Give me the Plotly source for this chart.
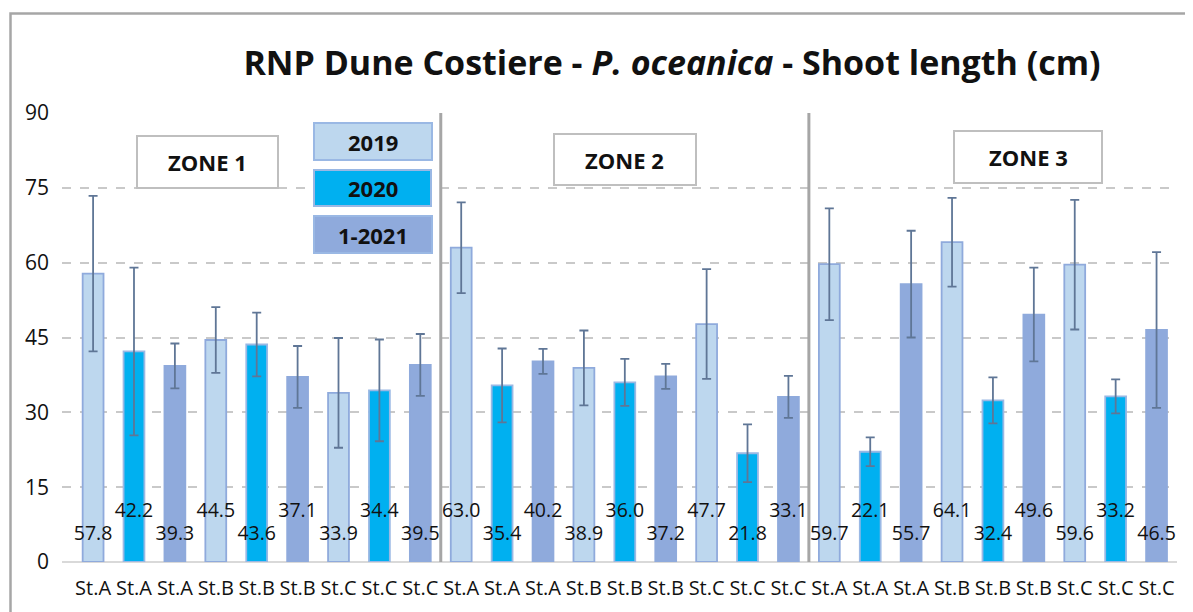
import plotly.graph_objects as go

# ---------------- data ----------------
stations = ["St.A", "St.A", "St.A", "St.B", "St.B", "St.B", "St.C", "St.C", "St.C",
            "St.A", "St.A", "St.A", "St.B", "St.B", "St.B", "St.C", "St.C", "St.C",
            "St.A", "St.A", "St.A", "St.B", "St.B", "St.B", "St.C", "St.C", "St.C"]
years = ["2019", "2020", "1-2021"] * 9
shoot_length = [57.8, 42.2, 39.3, 44.5, 43.6, 37.1, 33.9, 34.4, 39.5,
                63.0, 35.4, 40.2, 38.9, 36.0, 37.2, 47.7, 21.8, 33.1,
                59.7, 22.1, 55.7, 64.1, 32.4, 49.6, 59.6, 33.2, 46.5]
std_dev = [15.6, 16.8, 4.5, 6.6, 6.4, 6.2, 11.0, 10.2, 6.2,
           9.1, 7.4, 2.5, 7.5, 4.7, 2.5, 11.0, 5.8, 4.2,
           11.2, 2.9, 10.7, 8.9, 4.6, 9.4, 13.0, 3.4, 15.6]
zones = ["ZONE 1", "ZONE 2", "ZONE 3"]
legend_years = ["2019", "2020", "1-2021"]
y_ticks = [0, 15, 30, 45, 60, 75, 90]

# ---------------- styling ----------------
year_fill = {"2019": "#bdd7ee", "2020": "#00b0f0", "1-2021": "#8faadc"}
year_line = {"2019": "#8faadc", "2020": "#9ab8e4", "1-2021": "#8faadc"}
FONT = "Open Sans"

OFF = 8  # page body margin in the browser
W, H = 1193, 612
# target screen pixels for the plot area
PL, PR, PT, PB = 62, 1177, 113, 562
ML = PL - OFF
MT = PT - OFF
MR = (W + OFF) - PR
MB = (H + OFF) - PB
PW, PH = PR - PL, PB - PT


def px(x):
    return (x - PL) / PW


def py(y):
    return (PB - y) / PH


xs = list(range(len(shoot_length)))

fig = go.Figure()

fig.add_trace(go.Bar(
    x=xs, y=shoot_length, width=0.51,
    marker=dict(color=[year_fill[y] for y in years],
                line=dict(color=[year_line[y] for y in years], width=1.8)),
    error_y=dict(type="data", array=std_dev, visible=True,
                 color="#5f7696", thickness=1.8, width=4.5),
    showlegend=False, hoverinfo="skip",
))

# data labels, staggered low / high at the base of the bars
label_y = [5.4 if i % 2 == 0 else 10.0 for i in xs]
fig.add_trace(go.Scatter(
    x=xs, y=label_y, mode="text",
    text=[f"{v:.1f}" for v in shoot_length],
    textfont=dict(family=FONT, size=19.5, color="#111111"),
    textposition="middle center", cliponaxis=False,
    showlegend=False, hoverinfo="skip",
))

shapes = []
# outer chart border
shapes.append(dict(type="rect", xref="paper", yref="paper",
                   x0=px(10.5), x1=px(1215), y0=py(13.5), y1=py(640),
                   line=dict(color="#a6a6a6", width=2.5), fillcolor="rgba(0,0,0,0)",
                   layer="below"))
# zone separators
for sep in (8.5, 17.5):
    shapes.append(dict(type="line", xref="x", yref="y", x0=sep, x1=sep, y0=0, y1=90,
                       line=dict(color="#a6a6a6", width=3)))

annotations = []
# zone boxes
zone_boxes = [(137, 278, 136, 188), (554, 696, 134, 185), (954, 1102, 131, 183)]
for name, (x0, x1, y0, y1) in zip(zones, zone_boxes):
    shapes.append(dict(type="rect", xref="paper", yref="paper",
                       x0=px(x0), x1=px(x1), y0=py(y1), y1=py(y0),
                       line=dict(color="#bfbfbf", width=2), fillcolor="white"))
    annotations.append(dict(xref="paper", yref="paper", x=px((x0 + x1) / 2),
                            y=py((y0 + y1) / 2), text=f"<b>{name}</b>", showarrow=False,
                            font=dict(family=FONT, size=22, color="#111111"),
                            xanchor="center", yanchor="middle"))

# legend boxes
leg_boxes = [(314, 432, 123, 160), (314, 431, 170, 206), (314, 432, 216, 253)]
for yr, (x0, x1, y0, y1) in zip(legend_years, leg_boxes):
    shapes.append(dict(type="rect", xref="paper", yref="paper",
                       x0=px(x0), x1=px(x1), y0=py(y1), y1=py(y0),
                       line=dict(color="#9ab8e4", width=2), fillcolor=year_fill[yr]))
    annotations.append(dict(xref="paper", yref="paper", x=px((x0 + x1) / 2),
                            y=py((y0 + y1) / 2), text=f"<b>{yr}</b>", showarrow=False,
                            font=dict(family=FONT, size=22, color="#111111"),
                            xanchor="center", yanchor="middle"))

fig.update_layout(
    width=W, height=H,
    margin=dict(l=ML, r=MR, t=MT, b=MB, autoexpand=False),
    paper_bgcolor="white", plot_bgcolor="white",
    font=dict(family=FONT, color="#111111"),
    title=dict(text="<b>RNP Dune Costiere - <i>P. oceanica</i> - Shoot length (cm)</b>",
               xref="paper", x=px(672), xanchor="center",
               yref="container", y=1 - (63 - OFF) / H, yanchor="middle",
               font=dict(family=FONT, size=34, color="#111111")),
    xaxis=dict(range=[-0.76, 26.5], tickmode="array", tickvals=xs, ticktext=stations,
               tickfont=dict(family=FONT, size=20, color="#111111"),
               showgrid=False, zeroline=False, showline=False, ticks="",
               ticklabelstandoff=12),
    yaxis=dict(range=[0, 90], tickmode="array", tickvals=y_ticks,
               tickfont=dict(family=FONT, size=21, color="#111111"),
               showgrid=True, gridcolor="#c9c9c9", griddash="dash", gridwidth=1.5,
               zeroline=True, zerolinecolor="#d9d9d9", zerolinewidth=2,
               showline=False, ticks="", ticklabelstandoff=12),
    shapes=shapes, annotations=annotations,
    bargap=0.49,
)

fig.write_html("out.html")
